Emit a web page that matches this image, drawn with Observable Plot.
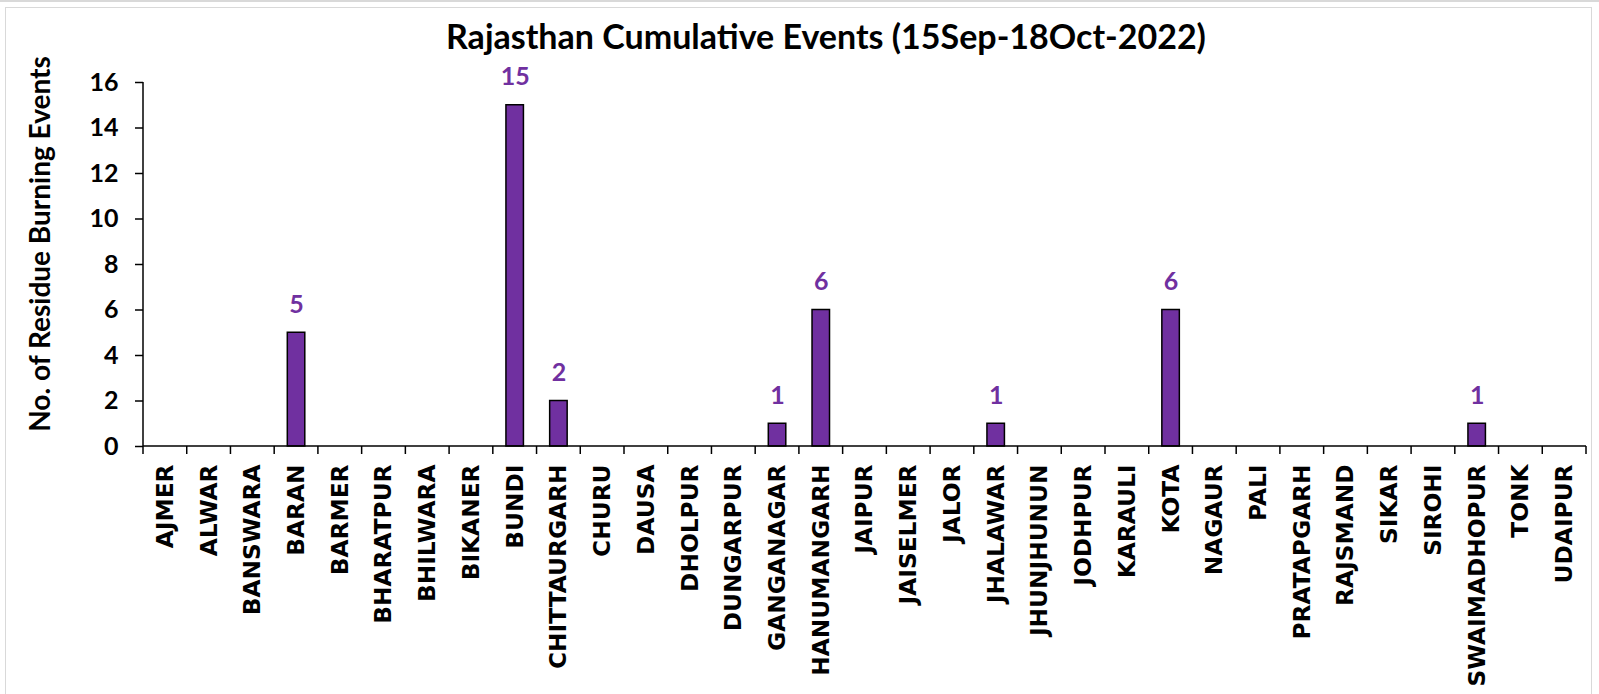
<!DOCTYPE html>
<html>
<head>
<meta charset="utf-8">
<script src="https://cdn.jsdelivr.net/npm/d3@7"></script>
<script src="https://cdn.jsdelivr.net/npm/@observablehq/plot@0.6"></script>
<style>
  html, body { margin: 0; padding: 0; background: #fff; width: 1599px; height: 694px; overflow: hidden; }
  #topband { position: absolute; left: 0; top: 0; width: 1599px; height: 2px; background: #d9d9d9; }
  #frame { position: absolute; left: 5px; top: 7px; width: 1587px; height: 700px; border: 1.5px solid #d9d9d9; box-sizing: border-box; }
  #title { position: absolute; left: 0; top: 15px; width: 1652px; text-align: center; font-family: Lato, "Open Sans", sans-serif; font-weight: bold; font-size: 34px; color: #000; }
  #chart { position: absolute; left: 0; top: 55px; }
</style>
</head>
<body>
<div id="topband"></div>
<div id="frame"></div>
<div id="title">Rajasthan Cumulative Events (15Sep-18Oct-2022)</div>
<div id="chart"></div>
<script>
const districts = ["AJMER","ALWAR","BANSWARA","BARAN","BARMER","BHARATPUR","BHILWARA","BIKANER","BUNDI","CHITTAURGARH","CHURU","DAUSA","DHOLPUR","DUNGARPUR","GANGANAGAR","HANUMANGARH","JAIPUR","JAISELMER","JALOR","JHALAWAR","JHUNJHUNUN","JODHPUR","KARAULI","KOTA","NAGAUR","PALI","PRATAPGARH","RAJSMAND","SIKAR","SIROHI","SWAIMADHOPUR","TONK","UDAIPUR"];
const events = [0,0,0,5,0,0,0,0,15,2,0,0,0,0,1,6,0,0,0,1,0,0,0,6,0,0,0,0,0,0,1,0,0];
const yTicks = [0,2,4,6,8,10,12,14,16];
const yTitle = "No. of Residue Burning Events";

const data = districts.map((d, i) => ({district: d, value: events[i]}));

const W = 1599, ML = 143, MR = 13;
const step = (W - ML - MR) / districts.length;
const inset = step * 0.3;

// axis lines + boundary ticks between categories (Excel style)
function axesLines(index, scales) {
  const x = scales.x, y = scales.y;
  const bw = x.bandwidth();
  const y0 = y(0);
  const left = x(districts[0]);
  const right = x(districts[districts.length - 1]) + bw;
  const g = d3.create("svg:g").attr("stroke", "#000").attr("stroke-width", 1.5).attr("fill", "none");
  g.append("line").attr("x1", left).attr("x2", left).attr("y1", y(16)).attr("y2", y0);
  g.append("line").attr("x1", left).attr("x2", right).attr("y1", y0).attr("y2", y0);
  const xs = districts.map(d => x(d));
  xs.push(right);
  for (const xv of xs) {
    g.append("line").attr("x1", xv).attr("x2", xv).attr("y1", y0).attr("y2", y0 + 8);
  }
  return g.node();
}

// rotated y-axis title
function yAxisTitle(index, scales, values, dimensions) {
  const {marginTop, marginBottom, height} = dimensions;
  const cy = marginTop + (height - marginTop - marginBottom) / 2 - 20;
  const cx = 39;
  const t = d3.create("svg:text")
    .attr("transform", `translate(${cx},${cy}) rotate(-90)`)
    .attr("text-anchor", "middle")
    .attr("dominant-baseline", "central")
    .attr("font-family", "Lato, sans-serif")
    .attr("font-weight", "bold")
    .attr("font-size", 28)
    .attr("fill", "#000")
    .text(yTitle);
  return t.node();
}

const chart = Plot.plot({
  width: W,
  height: 639,
  marginLeft: ML,
  marginRight: MR,
  marginTop: 27,
  marginBottom: 248,
  style: { background: "transparent", overflow: "visible" },
  x: { domain: districts, padding: 0, round: false, label: null },
  y: { domain: [0, 16], label: null },
  marks: [
    Plot.barY(data, { x: "district", y: "value", fill: "#7030A0", stroke: "#000", strokeWidth: 1.5, insetLeft: inset, insetRight: inset }),
    axesLines,
    Plot.axisY({ ticks: yTicks, tickSize: 8, tickPadding: 17, tickFormat: d => d, fontSize: 25, fontWeight: "bold", fontFamily: "Lato, sans-serif", label: null, strokeWidth: 1.5, color: "#000" }),
    Plot.axisX({ tickSize: 0, tickRotate: -90, tickPadding: 18, fontSize: 23.3, fontWeight: "bold", fontFamily: "DejaVu Sans", label: null, color: "#000" }),
    yAxisTitle,
    Plot.text(data.filter(d => d.value > 0), { x: "district", y: "value", text: d => String(d.value), dy: -28, fill: "#7030A0", fontSize: 25, fontWeight: "bold", fontFamily: "Lato, sans-serif" })
  ]
});
document.getElementById("chart").append(chart);
</script>
</body>
</html>
